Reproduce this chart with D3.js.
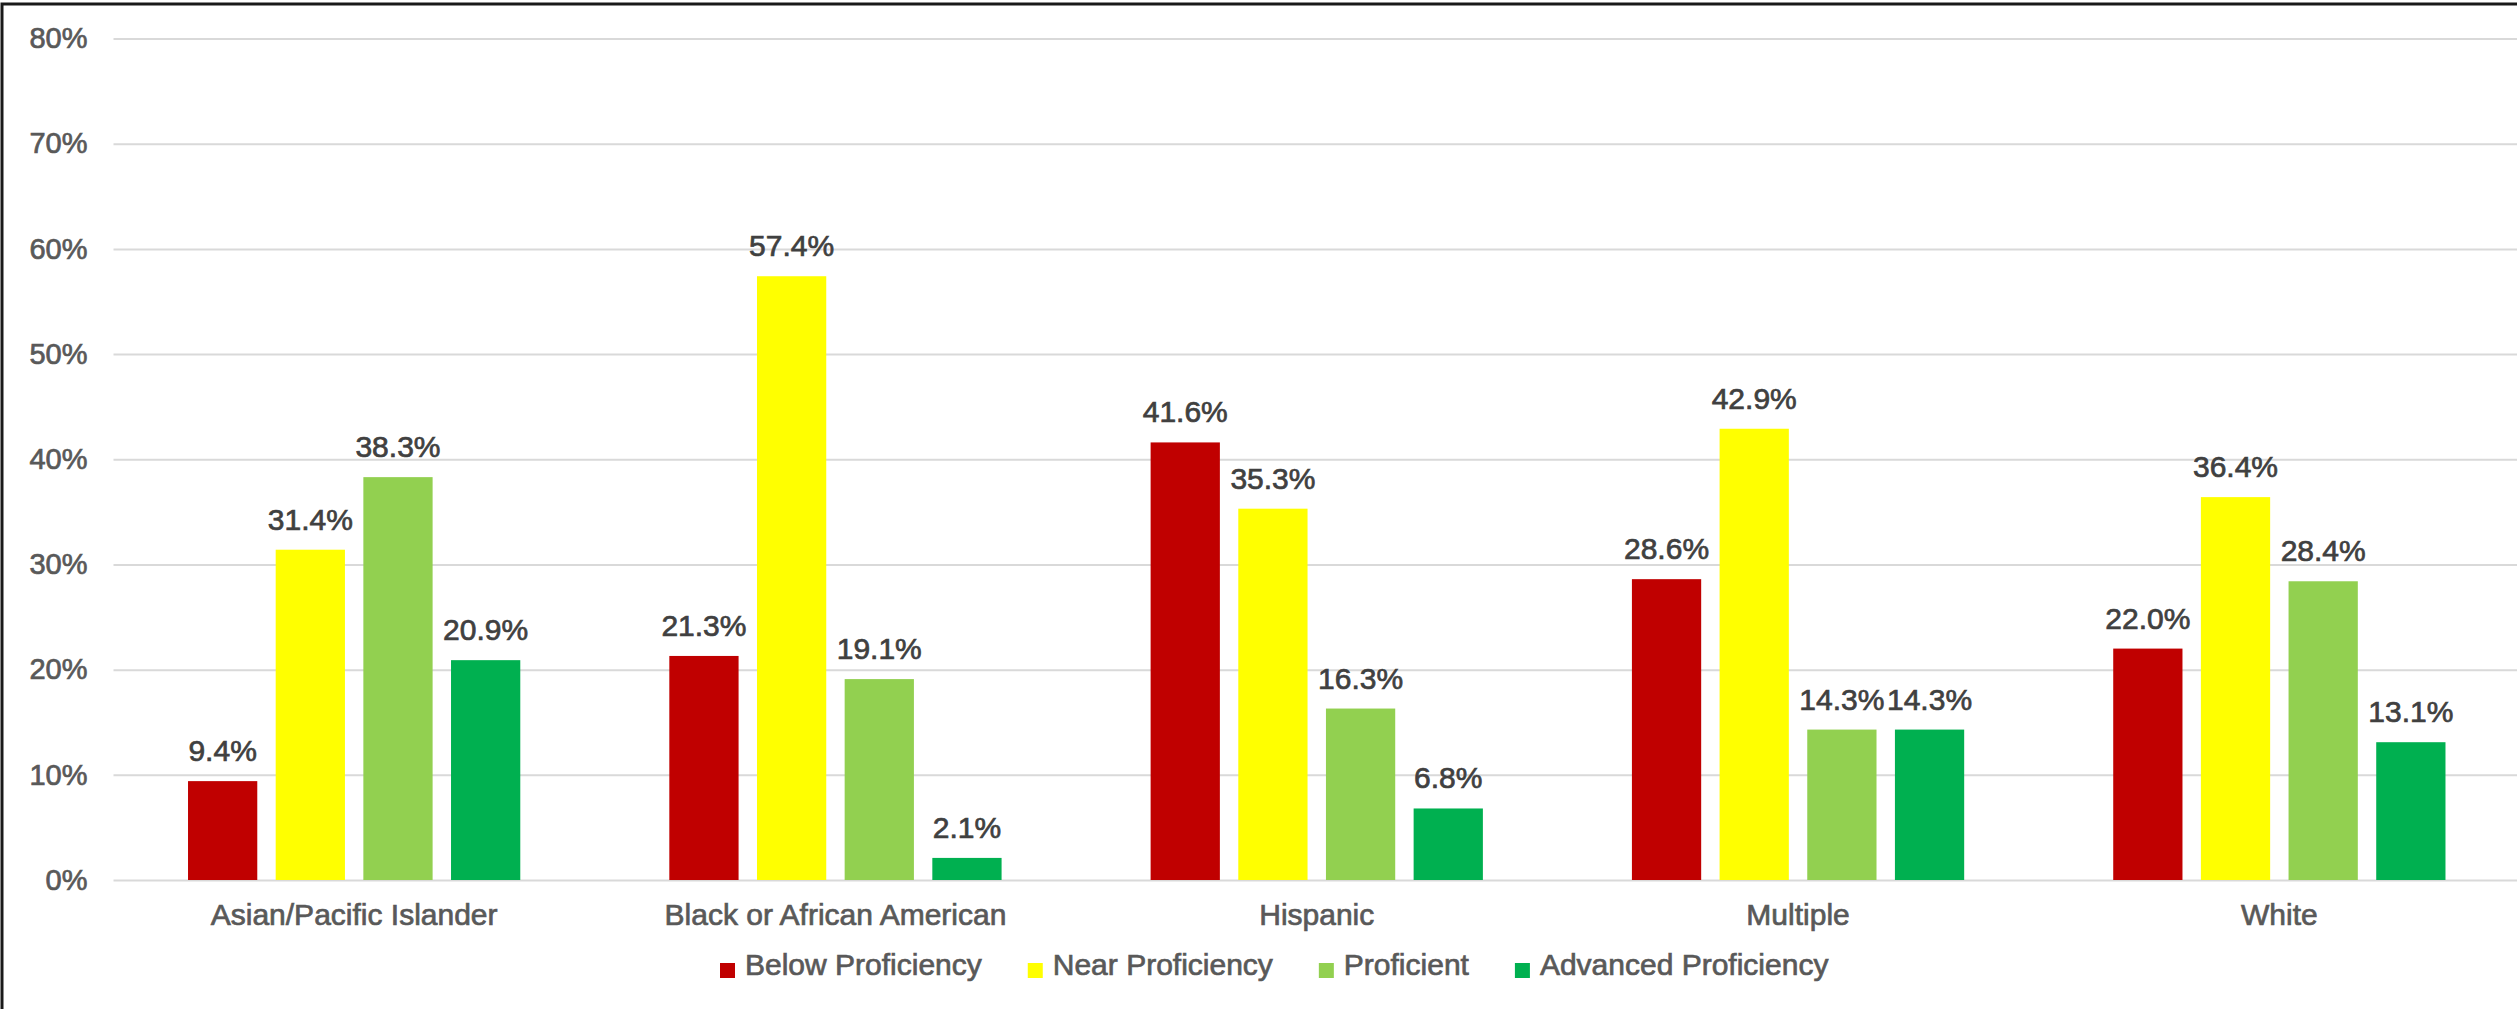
<!DOCTYPE html>
<html>
<head>
<meta charset="utf-8">
<script src="https://cdn.jsdelivr.net/npm/d3@7"></script>
<style>
  body { margin: 0; background: #fff; }
  #chart { width: 2517px; height: 1009px; }
  /* a thin stroke in the fill colour makes the text a bit heavier, closer to the original font */
  .heavy { stroke-width: 0.7px; paint-order: stroke; }
</style>
</head>
<body>
<div id="chart"></div>
<script>
// chart data
var categories = ["Asian/Pacific Islander", "Black or African American", "Hispanic", "Multiple", "White"];
var seriesNames = ["Below Proficiency", "Near Proficiency", "Proficient", "Advanced Proficiency"];
var belowProficiency = [9.4, 21.3, 41.6, 28.6, 22.0];
var nearProficiency = [31.4, 57.4, 35.3, 42.9, 36.4];
var proficient = [38.3, 19.1, 16.3, 14.3, 28.4];
var advancedProficiency = [20.9, 2.1, 6.8, 14.3, 13.1];
var yTicks = [0, 10, 20, 30, 40, 50, 60, 70, 80];
var seriesColors = ["#C00000", "#FFFF00", "#92D050", "#00B050"];

var seriesValues = [belowProficiency, nearProficiency, proficient, advancedProficiency];

var width = 2517
var height = 1009
var font = "'Liberation Sans', Arial, sans-serif"

var svg = d3.select("#chart")
  .append("svg")
  .attr("width", width)
  .attr("height", height);

// outer frame, only left and top show in the crop
svg.append("path")
  .attr("d", "M2," + height + " L2,4 L" + width + ",4")
  .attr("fill", "none")
  .attr("stroke", "#1a1a1a")
  .attr("stroke-width", 3);

var x0 = d3.scaleBand()
  .domain(categories)
  .range([113.5, 2520])
  .padding(0);

var x1 = d3.scaleBand()
  .domain(seriesNames)
  .range([0, x0.bandwidth()])
  .paddingInner(0.21)
  .paddingOuter(0.85);

var y = d3.scaleLinear()
  .domain([0, 80])
  .range([880, 38.5]);

// gridlines + y labels
var yAxis = d3.axisLeft(y)
  .tickValues(yTicks)
  .tickSize(-(width - 113.5))
  .tickPadding(26)
  .tickFormat(function (d) { return d + "%"; });

var gy = svg.append("g")
  .attr("transform", "translate(113.5,0)")
  .call(yAxis);
gy.select(".domain").remove();
gy.selectAll(".tick line")
  .attr("stroke", "#d9d9d9")
  .attr("stroke-width", 2);
gy.selectAll(".tick text")
  .attr("class", "heavy")
  .attr("fill", "#595959")
  .attr("stroke", "#595959")
  .style("font-family", font)
  .style("font-size", "29px");

// flatten into one row per bar
var rows = [];
categories.forEach(function (cat, i) {
  seriesNames.forEach(function (s, j) {
    rows.push({ cat: cat, series: s, idx: j, value: seriesValues[j][i] });
  });
});

var groups = svg.append("g");

groups.selectAll("rect")
  .data(rows)
  .enter()
  .append("rect")
  .attr("x", function (d) { return x0(d.cat) + x1(d.series); })
  .attr("y", function (d) { return y(d.value); })
  .attr("width", x1.bandwidth())
  .attr("height", function (d) { return y(0) - y(d.value); })
  .attr("fill", function (d) { return seriesColors[d.idx]; });

// value labels above bars
groups.selectAll("text.val")
  .data(rows)
  .enter()
  .append("text")
  .attr("class", "val heavy")
  .attr("x", function (d) { return x0(d.cat) + x1(d.series) + x1.bandwidth() / 2; })
  .attr("y", function (d) { return y(d.value) - 20; })
  .attr("text-anchor", "middle")
  .attr("fill", "#404040")
  .attr("stroke", "#404040")
  .style("font-family", font)
  .style("font-size", "30px")
  .text(function (d) { return d.value.toFixed(1) + "%"; });

// category labels
var xAxis = d3.axisBottom(x0).tickSize(0).tickPadding(0);
var gx = svg.append("g")
  .attr("transform", "translate(0,880)")
  .call(xAxis);
gx.select(".domain").remove();
gx.selectAll(".tick text")
  .attr("class", "heavy")
  .attr("y", 45)
  .attr("dy", 0)
  .attr("fill", "#595959")
  .attr("stroke", "#595959")
  .style("font-family", font)
  .style("font-size", "30px");

// legend, laid out left to right
var legend = svg.append("g");
var lx = 720;
seriesNames.forEach(function (name, j) {
  legend.append("rect")
    .attr("x", lx)
    .attr("y", 963)
    .attr("width", 15)
    .attr("height", 15)
    .attr("fill", seriesColors[j]);
  var t = legend.append("text")
    .attr("class", "heavy")
    .attr("x", lx + 25)
    .attr("y", 975)
    .attr("fill", "#595959")
    .attr("stroke", "#595959")
    .style("font-family", font)
    .style("font-size", "30px")
    .text(name);
  lx = lx + 25 + t.node().getComputedTextLength() + 46;
});
</script>
</body>
</html>
